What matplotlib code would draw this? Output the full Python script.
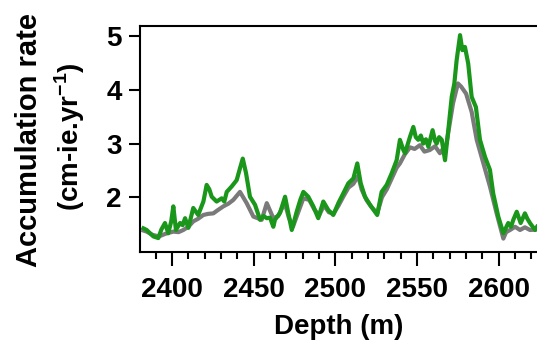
import matplotlib
matplotlib.use('Agg')
import matplotlib.pyplot as plt
from matplotlib.ticker import MultipleLocator

plt.rcParams['font.family'] = ['Liberation Sans', 'DejaVu Sans']
plt.rcParams['font.weight'] = 'bold'
plt.rcParams['mathtext.fontset'] = 'custom'
plt.rcParams['mathtext.bf'] = 'Liberation Sans:bold'
plt.rcParams['mathtext.rm'] = 'Liberation Sans:bold'

# ===== DATA =====
depth_green = [2382.5, 2384.5, 2386.5, 2388.6, 2391.6, 2393.5, 2395.7, 2397.7, 2399.5, 2400.8,
               2402.4, 2404.9, 2406.5, 2408, 2410, 2413, 2416, 2419.2, 2421.2, 2422.8,
               2424.3, 2427.3, 2430.4, 2432, 2433.5, 2436.5, 2439.6, 2441.6, 2443.3, 2445.3,
               2447.7, 2450.8, 2453.9, 2456, 2458, 2460, 2462, 2463, 2466.1, 2469.2,
               2471.2, 2473.3, 2476.3, 2478.5, 2480.4, 2483.4, 2486.5, 2489.5, 2492.6, 2495.7,
               2498.7, 2501.8, 2504.8, 2507.9, 2511, 2513.4, 2515.5, 2518.1, 2521.2, 2524.2,
               2525.6, 2528.3, 2531.4, 2534.5, 2537.5, 2539.5, 2541.6, 2542.6, 2545.7, 2547.7,
               2549.2, 2550.7, 2552.3, 2553.8, 2555.4, 2556.9, 2559.5, 2561, 2562, 2563.5,
               2565.1, 2567.1, 2569.1, 2571.2, 2572.8, 2574.2, 2576.3, 2577.7, 2579.3, 2581.3,
               2583.4, 2586, 2588.5, 2591.6, 2594.6, 2596.6, 2599.7, 2602.8, 2605.8, 2607.5,
               2608.9, 2611, 2613.4, 2616, 2617.5, 2619.1, 2622.2, 2623.4]
acc_green = [1.42, 1.39, 1.33, 1.27, 1.24, 1.40, 1.52, 1.33, 1.55, 1.83,
             1.39, 1.52, 1.48, 1.61, 1.43, 1.80, 1.67, 1.92, 2.23, 2.15,
             2.01, 1.92, 1.98, 1.92, 2.10, 2.20, 2.32, 2.54, 2.72, 2.45,
             2.01, 1.86, 1.58, 1.65, 1.61, 1.62, 1.45, 1.58, 1.71, 2.01,
             1.70, 1.39, 1.73, 1.95, 2.10, 2.01, 1.83, 1.61, 1.92, 1.76,
             1.67, 1.89, 2.07, 2.26, 2.35, 2.63, 2.26, 2.01, 1.86, 1.73,
             1.67, 2.10, 2.23, 2.45, 2.69, 3.07, 2.88, 2.82, 3.13, 3.31,
             3.12, 3.07, 3.15, 3.00, 3.08, 2.94, 3.25, 3.05, 3.00, 3.12,
             3.07, 2.69, 3.25, 3.87, 4.12, 4.55, 5.02, 4.74, 4.80, 4.49,
             3.87, 3.68, 3.07, 2.75, 2.51, 2.07, 1.64, 1.33, 1.52, 1.45,
             1.58, 1.73, 1.52, 1.70, 1.60, 1.52, 1.39, 1.45]

depth_grey = [2382.5, 2384.5, 2388, 2392, 2396, 2400.8, 2404, 2406.9, 2410, 2413,
              2416, 2419.2, 2422, 2425.3, 2428, 2431.4, 2434.5, 2437.5, 2441.6, 2445.7,
              2449.8, 2454.9, 2458, 2462, 2465, 2469, 2471.5, 2474, 2477, 2480.4,
              2484, 2487, 2490, 2493, 2496, 2499, 2502, 2505, 2508, 2511,
              2514, 2516, 2519, 2522, 2525.6, 2528.5, 2531.5, 2534.5, 2537.5, 2539.5,
              2542.5, 2545.7, 2548.5, 2551.7, 2554.5, 2557.8, 2561, 2564, 2568, 2572,
              2575, 2577, 2580, 2583.4, 2586.5, 2590.6, 2594.6, 2598.7, 2602.8, 2604.5,
              2606.9, 2610, 2613, 2616, 2619.1, 2623.4]
acc_grey = [1.38, 1.36, 1.30, 1.27, 1.32, 1.36, 1.35, 1.39, 1.45, 1.55,
            1.60, 1.67, 1.69, 1.70, 1.76, 1.83, 1.88, 1.95, 2.10, 1.89,
            1.64, 1.58, 1.89, 1.61, 1.65, 1.90, 1.62, 1.45, 1.70, 1.98,
            1.95, 1.78, 1.66, 1.85, 1.72, 1.70, 1.85, 2.02, 2.18, 2.25,
            2.40, 2.15, 1.95, 1.82, 1.70, 2.00, 2.15, 2.35, 2.55, 2.63,
            2.80, 2.93, 2.90, 2.97, 2.85, 2.88, 2.95, 2.82, 3.00, 3.75,
            4.12, 4.06, 3.93, 3.59, 3.07, 2.63, 2.20, 1.70, 1.23, 1.35,
            1.39, 1.45, 1.39, 1.44, 1.39, 1.40]

x_ticks = [2400, 2450, 2500, 2550, 2600]
y_ticks = [2, 3, 4, 5]

# ===== PLOT =====
fig = plt.figure(figsize=(5.37, 3.40), dpi=100)
ax = fig.add_axes([0.2607, 0.2588, 0.7393, 0.6647])

ax.plot(depth_grey, acc_grey, color='#7a7a7a', lw=3.0, solid_joinstyle='round')
ax.plot(depth_green, acc_green, color='#1a961a', lw=3.0, solid_joinstyle='round')

ax.set_xlim(2380.4, 2623.4)
ax.set_ylim(0.98, 5.19)
ax.set_xticks(x_ticks)
ax.set_yticks(y_ticks)
ax.xaxis.set_minor_locator(MultipleLocator(10))

for side in ['left', 'bottom', 'top']:
    ax.spines[side].set_linewidth(1.5)
ax.spines['right'].set_visible(False)

ax.tick_params(axis='both', which='major', direction='out', width=1.5, labelsize=20)
ax.tick_params(axis='x', which='major', length=10, pad=8)
ax.tick_params(axis='y', which='major', length=8, pad=5)
ax.tick_params(axis='x', which='minor', direction='out', width=1.5, length=5)

ax.set_xlabel('Depth (m)', fontsize=20, fontweight='bold', labelpad=8)

fig.text(29 / 537, 1 - 140 / 340, 'Accumulation rate', rotation=90, fontsize=21,
         fontweight='bold', ha='center', va='center')
fig.text(70 / 537, 1 - 137 / 340, '(cm-ie.yr$^{\\mathbf{-1}}$)', rotation=90, fontsize=20,
         fontweight='bold', ha='center', va='center')

fig.savefig('out.png', dpi=100)
